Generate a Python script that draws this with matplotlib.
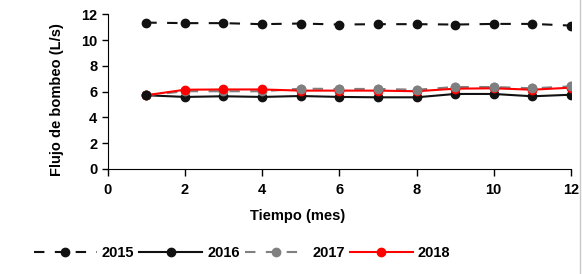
import matplotlib
matplotlib.use("Agg")
from matplotlib import pyplot as plt
from matplotlib.lines import Line2D

plt.rcParams['font.family'] = ['Liberation Sans', 'DejaVu Sans']
plt.rcParams['font.weight'] = 'bold'

# Monthly pumping flow (L/s) per year
months = [1, 2, 3, 4, 5, 6, 7, 8, 9, 10, 11, 12]
flow_2015 = [11.35, 11.31, 11.31, 11.23, 11.28, 11.20, 11.23, 11.23, 11.20, 11.25, 11.25, 11.12]
flow_2016 = [5.71, 5.58, 5.63, 5.58, 5.65, 5.58, 5.55, 5.55, 5.81, 5.81, 5.63, 5.75]
flow_2017 = [5.71, 6.02, 6.02, 6.02, 6.22, 6.20, 6.20, 6.14, 6.35, 6.35, 6.25, 6.40]
flow_2018 = [5.71, 6.14, 6.16, 6.16, 6.07, 6.07, 6.07, 6.02, 6.22, 6.25, 6.14, 6.30]

fig = plt.figure(figsize=(5.82, 2.74), dpi=100)
ax = fig.add_axes([0.185, 0.384, 0.796, 0.564])

ax.plot(months, flow_2015, color='#111111', lw=1.5, ls=(0, (5, 5)),
        marker='o', ms=6, label='2015')
ax.plot(months, flow_2016, color='#111111', lw=1.5,
        marker='o', ms=6, label='2016')
ax.plot(months, flow_2017, color='#808080', lw=1.5, ls=(0, (5, 5)),
        marker='o', ms=6, label='2017')
ax.plot(months, flow_2018, color='#ff0000', lw=1.5,
        marker='o', ms=6, label='2018')
# gray markers sit on top of the red line from month 5 on, as in the reference
ax.plot(months[4:], flow_2017[4:], ls='none', marker='o', ms=6, color='#808080')
ax.plot(months[:1], flow_2016[:1], ls='none', marker='o', ms=6, color='#111111')

ax.set_xlim(0, 12)
ax.set_ylim(0, 12)
ax.set_xticks(range(0, 13, 2))
ax.set_yticks(range(0, 13, 2))
ax.spines['top'].set_visible(False)
ax.spines['right'].set_visible(False)
ax.tick_params(labelsize=10.5, width=1, direction='out')
ax.tick_params(axis='x', length=5, pad=5)
ax.tick_params(axis='y', length=4.5, pad=3)
ax.set_xlabel('Tiempo (mes)', fontsize=10.5, fontweight='bold')
ax.set_ylabel('Flujo de bombeo (L/s)', fontsize=10.5, fontweight='bold')
ax.xaxis.set_label_coords(0.41, -0.306)
ax.yaxis.set_label_coords(-0.109, 0.445)
ax.xaxis.label.set_va('center')
ax.yaxis.label.set_va('center')

handles, labels = ax.get_legend_handles_labels()
fig.legend(handles[:4], labels[:4], loc='center', bbox_to_anchor=(0.416, 0.078),
           ncol=4, frameon=False, fontsize=10.5, handlelength=4.3,
           handletextpad=0.35, columnspacing=0.35)

fig.add_artist(Line2D([0.9965, 0.9965], [0, 1], color='#c8c8c8', lw=1))

fig.savefig('out.png', dpi=100)
